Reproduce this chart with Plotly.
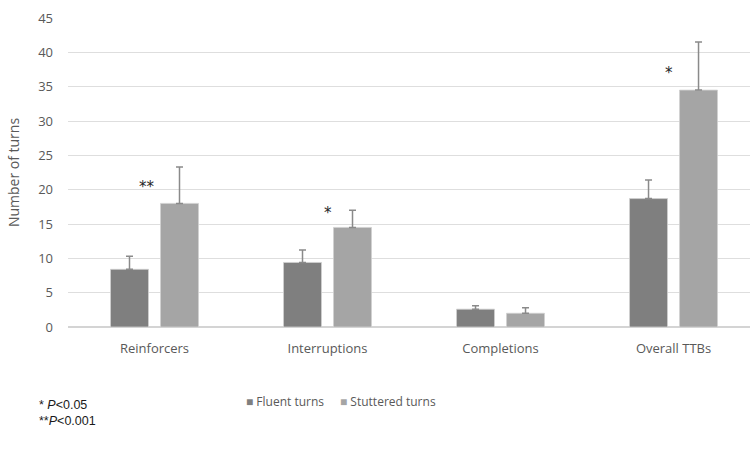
import plotly.graph_objects as go

# Turn categories and group means with their error-bar extents
categories = ["Reinforcers", "Interruptions", "Completions", "Overall TTBs"]
fluent = [8.4, 9.4, 2.6, 18.7]
fluent_err = [1.9, 1.8, 0.5, 2.7]
stuttered = [18.0, 14.5, 2.0, 34.5]
stuttered_err = [5.3, 2.5, 0.8, 7.0]
tick_vals = [0, 5, 10, 15, 20, 25, 30, 35, 40, 45]
series_names = ["Fluent turns", "Stuttered turns"]
series_colors = ["#7f7f7f", "#a5a5a5"]

# Significance markers: (category, height, label, horizontal shift in px)
sig_marks = [
    ("Reinforcers", 20.4, "**", -8),
    ("Interruptions", 16.6, "*", 0),
    ("Overall TTBs", 37.0, "*", -5),
]

FONT = "Open Sans, Calibri, sans-serif"
TEXT_GREY = "#595959"
ERR = dict(type="data", symmetric=False, color="#8a8a8a", thickness=1.5, width=3.5)

fig = go.Figure()
fig.add_trace(go.Bar(
    name=series_names[0], x=categories, y=fluent, showlegend=False,
    marker=dict(color=series_colors[0], line=dict(color="#d0d0d0", width=0.8)),
    error_y=dict(ERR, array=fluent_err, arrayminus=[0] * len(fluent_err)),
))
fig.add_trace(go.Bar(
    name=series_names[1], x=categories, y=stuttered, showlegend=False,
    marker=dict(color=series_colors[1], line=dict(color="#d0d0d0", width=0.8)),
    error_y=dict(ERR, array=stuttered_err, arrayminus=[0] * len(stuttered_err)),
))

for cat, yv, txt, shift in sig_marks:
    fig.add_annotation(x=cat, y=yv, text=txt, showarrow=False, xshift=shift,
                       font=dict(family="DejaVu Sans, sans-serif", size=15, color="#262626"))

# Compact legend: small coloured squares followed by series names
legend_x = [0.258, 0.396]
for name, col, lx in zip(series_names, series_colors, legend_x):
    fig.add_annotation(
        xref="paper", yref="paper", x=lx, y=-0.24, xanchor="left", yanchor="middle",
        showarrow=False,
        text=f'<span style="color:{col}">■</span> {name}',
        font=dict(family=FONT, size=12, color=TEXT_GREY))

# Footnote with significance thresholds
foot_font = dict(family="Liberation Sans, Arial, sans-serif", size=12.5, color="#1a1a1a")
fig.add_annotation(xref="paper", yref="paper", x=-0.044, y=-0.253,
                   xanchor="left", yanchor="middle", showarrow=False, align="left",
                   text="* <i>P</i><0.05", font=foot_font, borderpad=0)
fig.add_annotation(xref="paper", yref="paper", x=-0.044, y=-0.303,
                   xanchor="left", yanchor="middle", showarrow=False, align="left",
                   text="**<i>P</i><0.001", font=foot_font, borderpad=0)

fig.update_layout(
    width=750, height=459,
    margin=dict(l=68, r=0, t=18, b=132),
    plot_bgcolor="white", paper_bgcolor="white",
    barmode="group", bargap=0.422, bargroupgap=0.24,
    font=dict(family=FONT, size=12, color=TEXT_GREY),
    showlegend=False,
    xaxis=dict(range=[-0.5, 3.442], showgrid=False, ticks="", showline=False,
               ticklabelstandoff=12,
               tickfont=dict(family=FONT, size=13, color=TEXT_GREY)),
    yaxis=dict(range=[0, 45], tickvals=tick_vals, showgrid=True, gridcolor="#dedede",
               gridwidth=1, zeroline=True, zerolinecolor="#d4d4d4", zerolinewidth=2,
               ticks="", showline=False, ticklabelstandoff=14,
               tickfont=dict(family=FONT, size=13, color=TEXT_GREY),
               title=dict(text="Number of turns", standoff=15,
                          font=dict(family=FONT, size=14, color=TEXT_GREY))),
)

fig.write_html("out.html")
